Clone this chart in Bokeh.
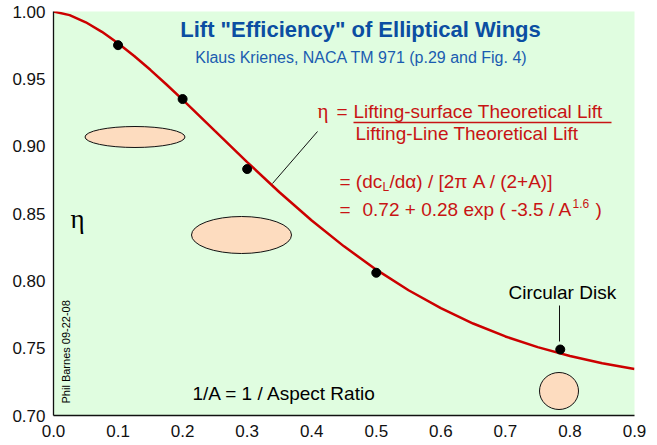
import math
from bokeh.plotting import figure
from bokeh.models import Range1d, FixedTicker, Label
from bokeh.embed import file_html
from bokeh.resources import INLINE

# ---- data ----
curve_x = [0.0, 0.025, 0.05, 0.075, 0.1, 0.125, 0.15, 0.175, 0.2, 0.25, 0.3, 0.35,
           0.4, 0.45, 0.5, 0.55, 0.6, 0.65, 0.7, 0.75, 0.8, 0.85, 0.9]
curve_eta = [1.0, 0.9973, 0.9920, 0.9849, 0.9764, 0.9669, 0.9567, 0.9458, 0.9345, 0.9113,
             0.8882, 0.8658, 0.8448, 0.8256, 0.8083, 0.7930, 0.7797, 0.7683, 0.7587,
             0.7508, 0.7442, 0.7388, 0.7346]
pts_x = [0.1, 0.2, 0.3, 0.5, 0.785]
pts_eta = [0.975, 0.935, 0.883, 0.806, 0.749]

x_ticks = [0.0, 0.1, 0.2, 0.3, 0.4, 0.5, 0.6, 0.7, 0.8, 0.9]
x_tick_labels = ["0.0", "0.1", "0.2", "0.3", "0.4", "0.5", "0.6", "0.7", "0.8", "0.9"]
y_ticks = [0.70, 0.75, 0.80, 0.85, 0.90, 0.95, 1.00]
y_tick_labels = ["0.70", "0.75", "0.80", "0.85", "0.90", "0.95", "1.00"]

X0, X1, Y0, Y1 = 0.0, 0.9, 0.70, 1.00
# frame in picture pixels
FL, FR, FT, FB = 53, 634, 11, 415


def dx(px):
    return X0 + (px - FL) / (FR - FL) * (X1 - X0)


def dy(py):
    return Y1 - (py - FT) / (FB - FT) * (Y1 - Y0)


FONT = "Liberation Sans"
RED = "#c81414"
BLUE = "#0b4ea2"

p = figure(frame_width=FR - FL, frame_height=FB - FT,
           x_range=Range1d(X0, X1), y_range=Range1d(Y0, Y1),
           output_backend="svg", toolbar_location=None,
           min_border_left=FL, min_border_top=FT,
           min_border_right=15, min_border_bottom=30)
p.background_fill_color = "#e0fde0"
p.border_fill_color = "white"
p.outline_line_color = None
p.grid.visible = False

p.xaxis.ticker = FixedTicker(ticks=x_ticks)
p.xaxis.major_label_overrides = dict(zip(x_ticks, x_tick_labels))
p.yaxis.ticker = FixedTicker(ticks=y_ticks)
p.yaxis.major_label_overrides = dict(zip(y_ticks, y_tick_labels))
for ax in (p.xaxis, p.yaxis):
    ax.axis_line_color = "#111111"
    ax.axis_line_width = 1.3
    ax.major_tick_line_color = None
    ax.minor_tick_line_color = None
    ax.major_tick_out = 0
    ax.major_tick_in = 0
    ax.major_label_text_font = FONT
    ax.major_label_text_font_size = "17px"
    ax.major_label_text_color = "#111111"
p.yaxis.major_label_standoff = 8
p.xaxis.major_label_standoff = 9

# planform shapes
ell_fill = "#fddcbf"
p.ellipse(x=[dx(134.5)], y=[dy(136.5)], width=100, height=21,
          width_units="screen", height_units="screen",
          fill_color=ell_fill, line_color="#111111", line_width=1)
p.ellipse(x=[dx(241)], y=[dy(234.5)], width=100, height=37,
          width_units="screen", height_units="screen",
          fill_color=ell_fill, line_color="#111111", line_width=1)
p.ellipse(x=[dx(558.5)], y=[dy(390.5)], width=39, height=37,
          width_units="screen", height_units="screen",
          fill_color=ell_fill, line_color="#111111", line_width=1)

# leader lines
p.segment(x0=[dx(272), dx(559)], y0=[dy(183), dy(305)],
          x1=[dx(317), dx(559)], y1=[dy(131), dy(341)],
          line_color="#111111", line_width=1)

# curve and data points
p.line(curve_x, curve_eta, line_color="#cc0000", line_width=2.5)
p.scatter(pts_x, pts_eta, size=9, color="black")

# fraction bar
p.segment(x0=[dx(353)], y0=[dy(122)], x1=[dx(611)], y1=[dy(122)],
          line_color=RED, line_width=1.5)


def lab(px, base, text, size, color="black", align="left",
        font=FONT, style="normal", angle=0.0):
    # base = glyph baseline in picture pixels; anchor on the text middle
    p.add_layout(Label(x=dx(px), y=dy(base - 0.35 * size), text=text, text_font=font,
                       text_font_size=f"{size}px", text_color=color,
                       text_align=align, text_baseline="middle",
                       text_font_style=style, angle=angle))


lab(360, 37, 'Lift "Efficiency" of Elliptical Wings', 22, BLUE, align="center", style="bold")
lab(361, 63, "Klaus Krienes, NACA TM 971 (p.29 and Fig. 4)", 16, "#1a5cb0", align="center")

lab(317, 118, "\u03b7", 21, RED, font="Liberation Serif")
lab(336, 118, "=", 19, RED)
lab(353, 118, "Lifting-surface Theoretical Lift", 19, RED)
lab(355, 140, "Lifting-Line Theoretical Lift", 19, RED)

lab(339, 188, "= (dc", 19, RED)
lab(382, 191, "L", 12, RED)
lab(389, 188, "/d\u03b1) / [2\u03c0 A / (2+A)]", 19, RED)

lab(339, 216, "=", 19, RED)
lab(362, 216, "0.72 + 0.28 exp ( -3.5 / A", 19, RED)
lab(572, 207, "1.6", 12, RED)
lab(595, 216, ")", 19, RED)

lab(70, 228, "\u03b7", 27, "black", font="Liberation Serif")
p.add_layout(Label(x=dx(65), y=dy(403), text="Phil Barnes 09-22-08", text_font=FONT,
                   text_font_size="11px", text_color="black", text_align="left",
                   text_baseline="middle", angle=math.pi / 2))
lab(192, 400, "1/A = 1 / Aspect Ratio", 19, "black")
lab(508, 299, "Circular Disk", 19, "black")

open("out.html", "w").write(file_html(p, INLINE))
